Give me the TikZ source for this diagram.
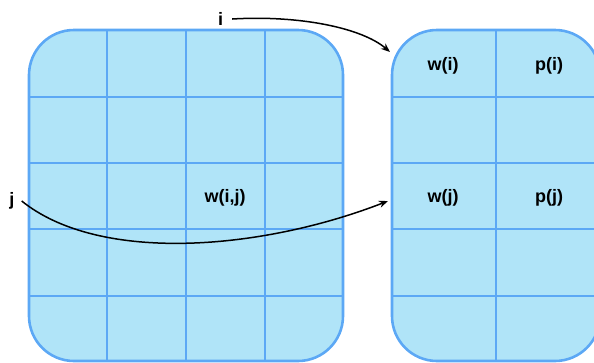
\documentclass[tikz,border=0pt]{standalone}
\usepackage{fontspec}
\setmainfont{Liberation Sans}
\usetikzlibrary{arrows.meta}
\definecolor{cellfill}{RGB}{176,228,248}
\definecolor{cellline}{RGB}{92,168,245}
\tikzset{
  boxfill/.style={fill=cellfill},
  gridline/.style={draw=cellline, line width=1.7pt},
  boxedge/.style={draw=cellline, line width=2.6pt, rounded corners=45pt},
  celltext/.style={font=\fontsize{18}{21}\selectfont\bfseries, text=black, inner sep=0pt},
  indexlabel/.style={font=\fontsize{18}{21}\selectfont\bfseries, text=black, inner ysep=0pt, inner xsep=9pt},
  link/.style={draw=black, line width=1.5pt, -{Stealth[length=9pt,width=7pt]}}
}
\begin{document}
\begin{tikzpicture}[x=1pt,y=-1pt]
\useasboundingbox (0,0) rectangle (594,362);
\clip (0,0) rectangle (594,362);

% two-dimensional table w(i,j)
\path[boxfill, rounded corners=45pt] (29,30) rectangle (343,361);
\foreach \x in {107,186,265} \draw[gridline] (\x,30) -- (\x,361);
\foreach \y in {97,163,229,296} \draw[gridline] (29,\y) -- (343,\y);
\draw[boxedge] (29,30) rectangle (343,361);

% per-item table w, p
\path[boxfill, rounded corners=45pt] (392,30) rectangle (600,361);
\draw[gridline] (496,30) -- (496,361);
\foreach \y in {97,163,229,296} \draw[gridline] (392,\y) -- (600,\y);
\draw[boxedge] (392,30) rectangle (600,361);

% cell entries
\node[celltext] (wij) at (225,198) {w(i,j)};
\node[celltext] (wi) at (443,66) {w(i)};
\node[celltext] (pi) at (549,66) {p(i)};
\node[celltext] (wj) at (443,198) {w(j)};
\node[celltext] (pj) at (549,198) {p(j)};

% index labels and their links
\node[indexlabel] (i) at (220.5,19) {i};
\node[indexlabel, inner xsep=7pt] (j) at (12,201) {j};
\coordinate (iend) at (390,52);
\coordinate (jend) at (388,201);
\draw[link] (i.east) .. controls (300,15) and (362,28) .. (iend);
\draw[link] (j.east) .. controls (100,264) and (262,250) .. (jend);
\end{tikzpicture}
\end{document}
